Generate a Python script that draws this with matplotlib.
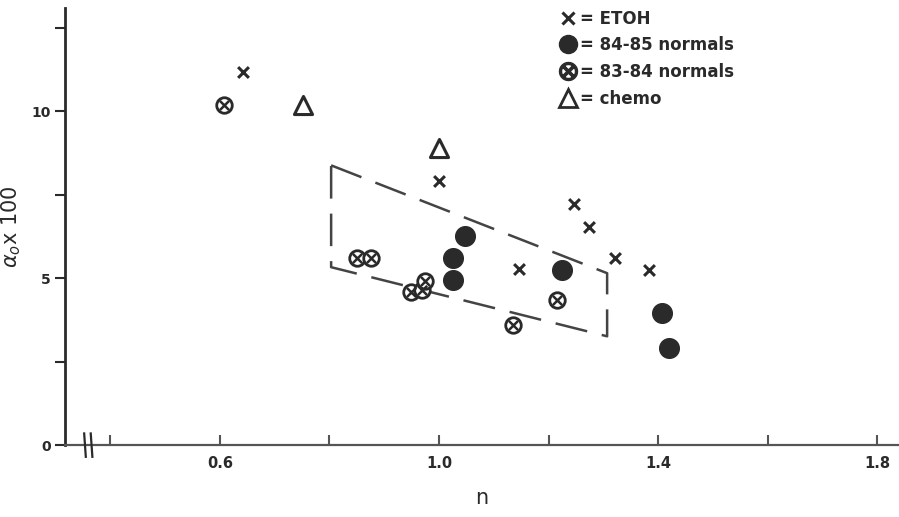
import numpy as np
import matplotlib.pyplot as plt
from matplotlib.lines import Line2D

# data
etoh_n = [0.642, 1.000, 1.146, 1.246, 1.273, 1.321, 1.384]
etoh_a = [11.17, 7.90, 5.27, 7.22, 6.53, 5.60, 5.24]

n8485 = [1.047, 1.026, 1.026, 1.225, 1.407, 1.420]
a8485 = [6.26, 5.60, 4.94, 5.24, 3.95, 2.90]

n8384 = [0.607, 0.850, 0.876, 0.949, 0.969, 0.974, 1.216, 1.135]
a8384 = [10.18, 5.60, 5.60, 4.58, 4.64, 4.91, 4.34, 3.60]

chemo_n = [0.752, 1.000]
chemo_a = [10.20, 8.90]

# dashed region (corners)
box_n = [0.803, 1.307, 1.307, 0.803, 0.803]
box_a = [8.38, 5.15, 3.26, 5.33, 8.38]

xticks = [0.6, 1.0, 1.4, 1.8]
xminor = [0.4, 0.8, 1.2, 1.6]
yticks = [0, 5, 10]
yminor = [2.5, 7.5, 12.5]

ink = '#2a2a2a'
plt.rcParams['font.family'] = 'DejaVu Sans'

fig = plt.figure(figsize=(8.99, 5.17), dpi=100)
ax = fig.add_axes([0.0723, 0.139, 0.9277, 0.846])

ax.plot(box_n, box_a, color='#444444', lw=1.8, dashes=(13, 6))

ax.scatter(etoh_n, etoh_a, marker='x', s=60, color=ink, linewidths=2.2, zorder=3)
ax.scatter(n8485, a8485, marker='o', s=200, color=ink, zorder=3)
ax.scatter(n8384, a8384, marker='o', s=125, facecolor='white', edgecolor=ink,
           linewidths=2.0, zorder=3)
ax.scatter(n8384, a8384, marker='x', s=45, color=ink, linewidths=1.8, zorder=4)
ax.scatter(chemo_n, chemo_a, marker='^', s=170, facecolor='white', edgecolor=ink,
           linewidths=2.2, zorder=3)

ax.set_xlim(0.317, 1.84)
ax.set_ylim(0, 13.1)
ax.set_xticks(xticks)
ax.set_xticklabels(['0.6', '1.0', '1.4', '1.8'])
ax.set_xticks(xminor, minor=True)
ax.set_yticks(yticks)
ax.set_yticks(yminor, minor=True)

for s in ['top', 'right']:
    ax.spines[s].set_visible(False)
ax.spines['left'].set_linewidth(2)
ax.spines['left'].set_color(ink)
ax.spines['bottom'].set_linewidth(1.6)
ax.spines['bottom'].set_color('#555555')

ax.tick_params(axis='y', which='both', direction='out', length=7, width=1.5,
               colors=ink, labelsize=10, pad=3)
ax.tick_params(axis='x', which='both', direction='in', length=7, width=1.5,
               colors='#555555', labelsize=10.5, pad=8)
for lab in ax.get_xticklabels() + ax.get_yticklabels():
    lab.set_color(ink)
    lab.set_fontweight('bold')

# axis break mark
for dx in (0.0, 0.012):
    ax.plot([0.352 + dx + 0.003, 0.352 + dx], [-0.35, 0.35],
            color=ink, lw=1.6, clip_on=False, zorder=5)

ax.set_xlabel('n', fontsize=15, color=ink, labelpad=12)
ax.set_ylabel(r'$\alpha_o$x 100', fontsize=15, color=ink, labelpad=6)

handles = [
    Line2D([], [], ls='none', marker='x', ms=8, mew=2.2, color=ink),
    Line2D([], [], ls='none', marker='o', ms=13, color=ink),
    Line2D([], [], ls='none', marker=r'$\otimes$', ms=13, color=ink),
    Line2D([], [], ls='none', marker='^', ms=13, mfc='white', mec=ink, mew=2),
]
labels = ['= ETOH', '= 84-85 normals', '= 83-84 normals', '= chemo']
leg = ax.legend(handles, labels, loc='upper left', bbox_to_anchor=(0.576, 1.03),
                frameon=False, handlelength=0.9, handletextpad=0.3,
                labelspacing=0.52, prop={'size': 12, 'weight': 'bold'})
for t in leg.get_texts():
    t.set_color(ink)

plt.savefig('out.png', dpi=100)
